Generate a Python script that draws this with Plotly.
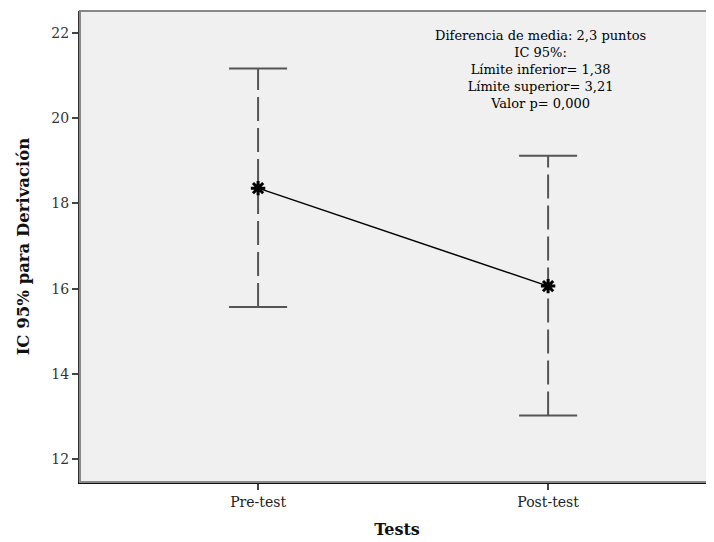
import plotly.graph_objects as go

categories = ["Pre-test", "Post-test"]
means = [18.36, 16.06]
upper = [21.17, 19.12]
lower = [15.57, 13.02]
note_lines = [
    "Diferencia de media: 2,3 puntos",
    "IC 95%:",
    "Límite inferior= 1,38",
    "Límite superior= 3,21",
    "Valor p= 0,000",
]
yticks = [12, 14, 16, 18, 20, 22]

xpos = list(range(len(categories)))
cap = 0.1
font_family = "DejaVu Serif"
bar_color = "#555555"

fig = go.Figure()

for i, x in enumerate(xpos):
    fig.add_trace(go.Scatter(
        x=[x, x], y=[lower[i], upper[i]], mode="lines",
        line=dict(color=bar_color, width=2, dash="24px,7px"),
        hoverinfo="skip", showlegend=False))
    for v in (lower[i], upper[i]):
        fig.add_trace(go.Scatter(
            x=[x - cap, x + cap], y=[v, v], mode="lines",
            line=dict(color=bar_color, width=2),
            hoverinfo="skip", showlegend=False))

fig.add_trace(go.Scatter(
    x=xpos, y=means, mode="lines+markers",
    line=dict(color="black", width=1.5),
    marker=dict(symbol="asterisk", size=12, color="black",
                line=dict(color="black", width=3)),
    showlegend=False))

fig.add_annotation(
    x=0.726, y=0.876, xref="paper", yref="paper",
    text="<br>".join(note_lines), showarrow=False,
    xanchor="center", yanchor="middle", align="center",
    font=dict(family=font_family, size=13, color="black"))

fig.add_shape(type="rect", xref="paper", yref="paper", x0=0, y0=0, x1=1, y1=1,
              line=dict(color="#888888", width=2), layer="above")

fig.update_layout(
    width=706, height=534,
    margin=dict(l=72, r=0, t=3, b=60),
    paper_bgcolor="white", plot_bgcolor="#f0f0f0",
    font=dict(family=font_family, color="#222222"),
    xaxis=dict(
        range=[-0.614, 1.572], tickvals=xpos, ticktext=categories,
        showgrid=False, zeroline=False, showline=True, linecolor="#111111",
        linewidth=2, ticks="outside", ticklen=6, tickwidth=2, tickcolor="#444444",
        tickfont=dict(family=font_family, size=14, color="#222222"),
        title=dict(text="<b>Tests</b>", font=dict(family=font_family, size=16, color="#111111"),
                   standoff=15)),
    yaxis=dict(
        range=[11.46, 22.52], tickvals=yticks,
        showgrid=False, zeroline=False, showline=True, linecolor="#333333",
        linewidth=2, ticks="outside", ticklen=6, tickwidth=2, tickcolor="#444444",
        tickfont=dict(family=font_family, size=14, color="#333333"),
        title=dict(text="<b>IC 95% para Derivación</b>",
                   font=dict(family=font_family, size=16.5, color="#111111"),
                   standoff=18)),
)

fig.write_html("out.html")
